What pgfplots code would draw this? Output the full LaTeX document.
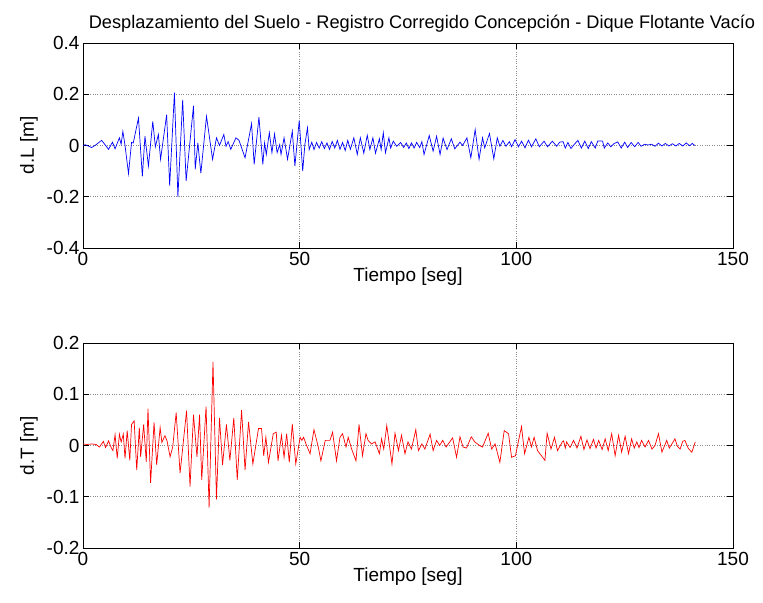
\documentclass[border=0pt]{standalone}
\usepackage{fontspec}
\setmainfont{Liberation Sans}
\usepackage{pgfplots}
\pgfplotsset{compat=1.18}
\newcommand{\ff}{\fontsize{19bp}{22bp}\selectfont}
\newcommand{\tf}{\fontsize{18.2bp}{21bp}\selectfont}
\pgfplotsset{
  mystyle/.style={
    scale only axis, width=650bp, height=205bp, anchor=south west,
    xmin=0, xmax=150, xtick={0,50,100,150}, xticklabels={0,50,100,150},
    grid=major, major grid style={dotted, gray!90, line width=0.7bp},
    tick align=inside, major tick length=6bp, tick style={black, line width=0.6bp},
    axis line style={line width=0.8bp},
    ticklabel style={font=\ff},
    label style={font=\ff},
    xlabel={Tiempo [seg]},
    xticklabel style={yshift=-1bp},
    xlabel style={yshift=5bp},
    ylabel style={yshift=2bp},
    clip=true,
  }
}
\begin{document}
\begin{tikzpicture}
\useasboundingbox (0,0) rectangle (763bp,603bp);
\begin{axis}[mystyle, at={(83bp,355bp)},
  ymin=-0.4, ymax=0.4, ytick={-0.4,-0.2,0,0.2,0.4}, yticklabels={-0.4,-0.2,0,0.2,0.4},
  ylabel={d.L [m]},
  title={Desplazamiento del Suelo - Registro Corregido Concepción - Dique Flotante Vacío},
  title style={font=\tf, xshift=14bp, yshift=1bp}]
\addplot[blue, line width=0.7bp] coordinates {
(0,0) (0.5,0.003) (1.2,-0.002) (2.0,-0.008) (3.0,0.003) (4.3,0.02) (5.0,0.005) (5.9,-0.015)
(6.8,0.013) (7.4,-0.013) (8.4,0.03) (8.8,0.005) (9.2,0.055) (9.7,0.0) (10.5,-0.11) (11.2,0.012)
(11.6,0.01) (12.8,0.107) (13.7,-0.12) (14.3,0.036) (15.1,-0.08) (16.1,0.094) (16.7,-0.005)
(17.4,0.043) (17.9,-0.054) (19.3,0.12) (20.0,-0.157) (21.1,0.206) (21.9,-0.2) (23.0,0.178)
(23.8,-0.138) (25.5,0.155) (25.9,-0.093) (26.5,0.01) (27.2,-0.108) (28.5,0.114) (29.9,-0.054)
(30.8,0.03) (31.5,0.0) (32.5,0.043) (33.0,-0.003) (33.5,0.015) (34.1,-0.015) (35.3,0.03)
(36.0,0.02) (37.4,-0.048) (38.9,0.085) (39.5,-0.074) (40.6,0.111) (41.5,-0.074) (41.9,0.01)
(42.3,-0.035) (43.0,0.05) (43.6,-0.028) (44.2,0.045) (44.8,-0.028) (45.4,0.004) (45.7,-0.035)
(46.4,0.03) (47.2,-0.054) (48.3,0.056) (48.9,-0.08) (49.9,0.098) (50.7,-0.1) (51.2,0.004)
(51.8,0.069) (52.2,-0.016) (52.8,0.013) (53.3,-0.016) (53.9,0.012) (54.5,-0.01) (55.1,0.015)
(55.7,-0.012) (56.3,0.01) (56.9,-0.015) (57.5,0.016) (58.1,-0.01) (58.7,0.02) (59.3,-0.015)
(59.9,0.012) (60.5,-0.02) (61.1,0.02) (61.7,-0.015) (62.5,0.03) (63.3,-0.035) (64.0,0.03)
(64.8,-0.03) (65.6,0.04) (66.2,-0.016) (66.9,0.03) (67.5,-0.03) (68.4,0.026) (68.8,-0.016)
(69.3,0.05) (69.8,-0.028) (70.6,0.03) (71.0,-0.01) (71.6,0.017) (72.4,-0.003) (73.3,0.012)
(74.0,-0.008) (74.6,0.01) (75.2,-0.012) (75.8,0.01) (76.4,-0.01) (77.0,0.012) (77.7,-0.008)
(78.2,0.015) (78.7,-0.035) (79.9,0.039) (80.8,-0.022) (81.6,0.036) (82.4,-0.035) (83.1,0.029)
(84.0,-0.016) (85.0,0.026) (85.8,-0.013) (87.0,0.013) (87.6,0.0) (88.6,0.03) (89.5,-0.048)
(90.5,0.062) (91.4,-0.054) (92.2,0.03) (92.7,-0.009) (93.8,0.047) (94.8,-0.052) (95.6,0.03)
(96.2,-0.003) (96.9,0.02) (97.6,-0.003) (98.4,0.015) (98.9,-0.005) (99.7,0.023) (100.5,-0.005)
(101.2,0.017) (102.0,-0.009) (102.8,0.021) (103.5,-0.005) (104.5,0.026) (105.3,-0.005)
(106.4,0.017) (107.2,-0.005) (108.3,0.017) (109.3,-0.003) (110.0,0.013) (110.8,0.015)
(111.3,-0.01) (111.9,0.012) (112.6,-0.012) (113.3,0.003) (114.2,0.02) (115.0,-0.01)
(115.8,0.017) (116.6,-0.012) (117.3,0.015) (118.2,-0.01) (118.8,0.018) (119.9,0.017)
(120.3,-0.01) (121.1,0.01) (121.8,-0.005) (122.6,0.008) (123.4,0.014) (124.2,-0.01)
(125.0,0.013) (125.7,-0.008) (126.5,0.012) (127.3,-0.005) (128.1,0.012) (128.8,-0.003)
(129.6,0.005) (130.4,0.002) (131.2,0.005) (132.0,-0.003) (132.8,0.009) (133.6,-0.002)
(134.4,0.008) (135.2,-0.002) (136.0,0.007) (136.8,-0.002) (137.6,0.008) (138.4,-0.002)
(139.2,0.01) (140.0,-0.001) (140.6,0.008) (141.2,0.0)
};
\end{axis}
\begin{axis}[mystyle, at={(83bp,55bp)},
  ymin=-0.2, ymax=0.2, ytick={-0.2,-0.1,0,0.1,0.2}, yticklabels={-0.2,-0.1,0,0.1,0.2},
  ylabel={d.T [m]}]
\addplot[red, line width=0.7bp] coordinates {
(0,0.003) (1.0,0.002) (2.0,0.003) (3.0,0.002) (3.8,-0.003) (4.7,0.008) (5.2,-0.004) (5.9,0.009)
(6.5,-0.004) (6.9,-0.01) (7.4,0.021) (7.9,-0.025) (8.4,0.022) (8.8,0.007) (9.3,0.022)
(9.7,-0.025) (10.2,0.029) (10.8,-0.029) (11.2,0.041) (11.8,0.048) (12.4,-0.048) (13.0,0.035)
(13.3,-0.022) (14.0,0.041) (14.6,-0.032) (15.0,0.072) (15.6,-0.073) (16.4,0.045) (17.0,-0.038)
(17.8,0.035) (18.2,0.006) (18.9,0.019) (19.4,0.009) (20.1,-0.022) (20.7,-0.003) (21.5,0.064)
(22.4,-0.054) (23.9,0.068) (24.7,-0.08) (25.5,0.06) (26.3,-0.022) (26.9,0.06) (27.4,-0.067)
(28.4,0.076) (29.1,-0.121) (30.0,0.163) (30.8,-0.105) (31.5,0.054) (32.2,-0.038) (33.1,0.041)
(33.9,-0.029) (34.8,0.054) (35.6,-0.067) (36.6,0.069) (37.4,-0.048) (38.2,0.046) (39.2,-0.036)
(40.5,0.033) (41.2,0.033) (41.7,-0.02) (42.2,0.016) (42.8,-0.033) (43.9,0.023) (44.6,0.026)
(45.0,-0.03) (45.8,0.02) (46.4,-0.023) (47.0,0.023) (47.6,-0.033) (48.3,0.042) (49.1,-0.036)
(50.1,0.016) (50.5,0.01) (50.9,0.016) (51.6,0.0) (52.4,-0.016) (53.3,0.031) (54.3,-0.003)
(54.9,-0.03) (55.9,0.01) (57.0,0.01) (57.6,0.026) (58.5,-0.03) (59.3,0.016) (59.9,0.023)
(60.7,-0.003) (61.2,0.016) (62.0,-0.007) (63.0,-0.03) (63.7,0.041) (64.5,-0.02) (65.3,0.023)
(65.8,0.01) (66.6,0.003) (67.4,0.007) (68.4,-0.016) (68.9,0.013) (69.4,-0.007) (70.1,0.039)
(71.3,-0.036) (72.0,0.024) (72.8,-0.01) (73.5,0.02) (74.3,-0.016) (75.0,0.007) (75.8,-0.007)
(76.8,0.031) (77.4,-0.01) (78.2,0.003) (78.9,-0.007) (80.1,0.022) (80.8,-0.01) (81.6,0.01)
(82.3,0.0) (83.0,0.01) (83.8,-0.003) (85.3,0.015) (86.2,-0.023) (87.0,0.017) (87.7,-0.003)
(88.5,-0.005) (89.6,0.017) (90.4,0.007) (91.5,0.0) (92.2,-0.003) (93.5,0.024) (94.3,-0.007)
(95.1,0.003) (96.2,-0.033) (97.2,0.029) (98.2,0.023) (98.9,-0.023) (99.8,-0.02) (100.2,-0.003)
(101.2,0.037) (101.9,-0.016) (102.9,0.016) (103.5,-0.003) (104.1,0.016) (104.9,-0.01)
(106.6,-0.029) (107.1,0.024) (108.0,-0.007) (108.8,0.016) (109.5,-0.01) (110.6,0.007)
(110.9,0.009) (111.3,-0.005) (111.6,0.007) (112.4,-0.004) (113.2,0.01) (114.0,-0.005)
(114.9,0.018) (115.6,-0.008) (116.3,0.011) (117.0,-0.006) (117.8,0.012) (118.4,-0.005)
(119.0,0.01) (119.8,-0.008) (120.5,0.013) (121.2,-0.01) (122.0,0.023) (122.8,-0.02)
(123.6,0.02) (124.3,-0.013) (125.1,0.018) (125.9,-0.016) (126.6,0.013) (127.2,-0.005)
(127.8,0.007) (128.3,-0.004) (128.9,0.01) (129.7,-0.003) (130.5,0.01) (131.3,-0.007)
(132.0,0.0) (132.8,0.023) (133.6,-0.013) (134.7,0.01) (135.3,-0.005) (135.9,0.003)
(136.6,0.013) (137.2,-0.002) (137.8,-0.007) (138.4,0.008) (138.9,0.01) (139.7,-0.006)
(140.5,-0.013) (141.3,0.007)
};
\end{axis}
\end{tikzpicture}
\end{document}
